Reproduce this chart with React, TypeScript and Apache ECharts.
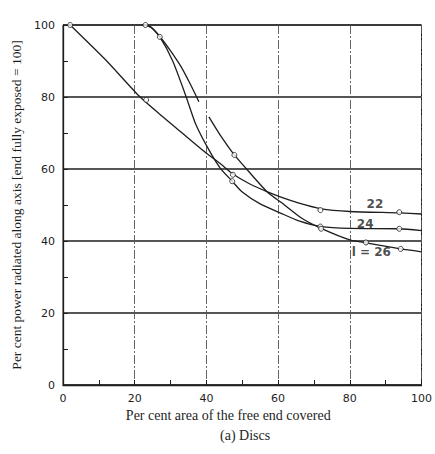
import React, { useEffect, useRef } from "react";
import * as echarts from "echarts";

// Curve l = 22 (traced line)
const curve22: [number, number][] = [
  [2, 100], [12, 90.2], [21.3, 80.2], [27, 75.2], [33, 70.2], [40, 64.4], [44, 61.4],
  [47.4, 58.6], [52, 55.9], [56.9, 53.7], [61, 52.1], [65.6, 50.6], [71.8, 49],
  [80, 48.2], [93.8, 47.8], [100, 47.5],
];
// Curve l = 24
const curve24: [number, number][] = [
  [22, 100], [24.5, 99.4], [27, 96.7], [30.6, 90], [34.2, 80.5], [37, 72.5],
  [40.7, 65.3], [43.9, 60.2], [47.2, 56.6], [50, 53.6], [55, 50.3], [61, 47.6],
  [66, 45.5], [72, 44], [80, 43.5], [93.8, 43.4], [100, 42.9],
];
// Curve l = 26, upper part (drawn broken in the source)
const curve26Upper: [number, number][] = [
  [22, 100], [24.5, 99.4], [27, 96.8], [30, 92.8], [33, 88.3], [35.5, 83.6], [37.9, 78.7],
];
// Curve l = 26, lower part
const curve26Lower: [number, number][] = [
  [40.7, 74.5], [44, 69.2], [47.8, 63.9], [51.8, 59.3], [56.9, 53.7], [61, 50.6],
  [66.6, 46.3], [72, 43.5], [80, 40.3], [84.5, 39.5], [94.2, 37.8], [100, 37],
];
// Measured points (markers)
const points22: [number, number][] = [[2, 100], [23.2, 79.2], [47.4, 58.4], [71.8, 48.6], [93.8, 48]];
const points24: [number, number][] = [[27, 96.7], [47.2, 56.6], [71.8, 44], [93.8, 43.4]];
const points26: [number, number][] = [[23, 100], [47.8, 63.9], [72, 43.4], [84.5, 39.6], [94.2, 37.8]];
// Curve labels
const curveLabels: { text: string; x: number; y: number }[] = [
  { text: "22", x: 87, y: 50.3 },
  { text: "24", x: 84.3, y: 44.8 },
  { text: "l = 26", x: 86, y: 37 },
];
const xTicks = [0, 20, 40, 60, 80, 100];
const yTicks = [0, 20, 40, 60, 80, 100];

const INK = "#1e1e1e";
const SERIF = "'Liberation Serif', 'DejaVu Serif', 'Times New Roman', serif";
const SANS = "'DejaVu Sans', 'Liberation Sans', sans-serif";

export default function App() {
  const ref = useRef<HTMLDivElement>(null);
  useEffect(() => {
    if (!ref.current) return;
    const chart = echarts.init(ref.current, null, { renderer: "svg" });
    const lineSeries = (name: string, data: [number, number][]) => ({
      name,
      type: "line",
      data,
      smooth: 0.2,
      showSymbol: false,
      symbol: "none",
      lineStyle: { color: INK, width: 1.3 },
      z: 3,
    });
    const markerSeries = (name: string, data: [number, number][]) => ({
      name,
      type: "scatter",
      data,
      symbol: "circle",
      symbolSize: 5,
      itemStyle: { color: "#fff", borderColor: INK, borderWidth: 1 },
      z: 4,
    });
    chart.setOption({
      animation: false,
      backgroundColor: "#fff",
      title: {
        text: "(a) Discs",
        left: 215,
        top: 423,
        textStyle: { fontFamily: SERIF, fontSize: 14, fontWeight: "normal", color: INK },
      },
      grid: {
        left: 63,
        right: 11,
        top: 25,
        bottom: 69,
        show: true,
        borderColor: INK,
        borderWidth: 1,
        backgroundColor: "transparent",
      },
      xAxis: {
        type: "value",
        min: xTicks[0],
        max: xTicks[xTicks.length - 1],
        interval: 20,
        name: "Per cent area of the free end covered",
        nameLocation: "middle",
        nameGap: 21,
        nameTextStyle: { fontFamily: SERIF, fontSize: 14, color: INK, padding: [0, 28, 0, 0] },
        axisLine: { lineStyle: { color: INK, width: 1.3 } },
        axisTick: { show: true, inside: true, length: 5, lineStyle: { color: INK } },
        minorTick: { show: true, splitNumber: 2, length: 5, lineStyle: { color: INK } },
        axisLabel: { fontFamily: SANS, fontSize: 11, color: INK, margin: 8 },
        splitLine: { show: true, lineStyle: { color: "#555", width: 0.9, type: [9, 2, 2, 2] } },
      },
      yAxis: {
        type: "value",
        min: yTicks[0],
        max: yTicks[yTicks.length - 1],
        interval: 20,
        name: "Per cent power radiated along axis [end fully exposed = 100]",
        nameLocation: "middle",
        nameGap: 40,
        nameTextStyle: { fontFamily: SERIF, fontSize: 13.5, color: INK },
        axisLine: { show: true, lineStyle: { color: INK, width: 1.3 } },
        axisTick: { show: true, inside: true, length: 5, lineStyle: { color: INK } },
        minorTick: { show: true, splitNumber: 2, length: 5, lineStyle: { color: INK } },
        axisLabel: { fontFamily: SANS, fontSize: 11, color: INK, margin: 8 },
        splitLine: { show: true, lineStyle: { color: INK, width: 1.6 } },
      },
      series: [
        lineSeries("22", curve22),
        lineSeries("24", curve24),
        lineSeries("26a", curve26Upper),
        lineSeries("26b", curve26Lower),
        markerSeries("p22", points22),
        markerSeries("p24", points24),
        markerSeries("p26", points26),
        {
          name: "labels",
          type: "scatter",
          data: curveLabels.map((l) => ({ value: [l.x, l.y], label: { formatter: l.text } })),
          symbolSize: 0,
          label: {
            show: true,
            position: "inside",
            fontFamily: SANS,
            fontSize: 12,
            fontWeight: "bold",
            color: INK,
          },
          z: 5,
        },
      ],
    });
    return () => chart.dispose();
  }, []);
  return <div ref={ref} style={{ width: 435, height: 454, position: "fixed", left: 0, top: 0 }} />;
}
